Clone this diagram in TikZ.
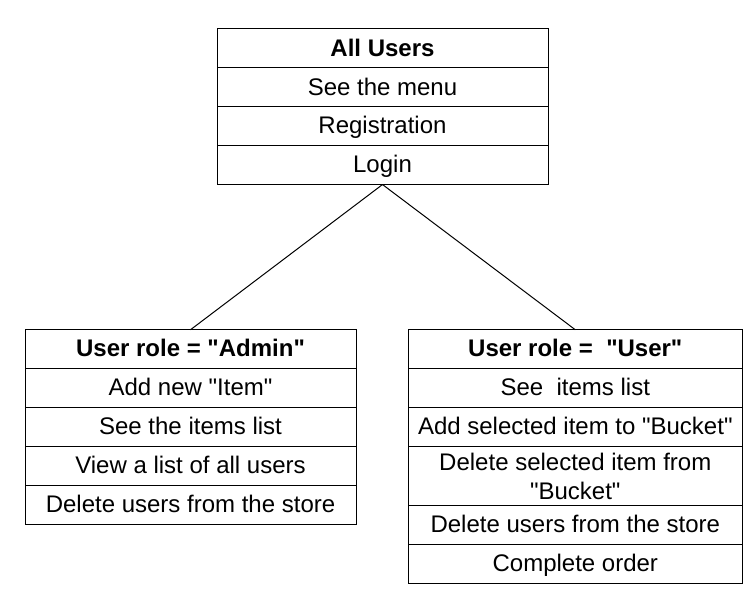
\documentclass[tikz,border=0pt]{standalone}
\usepackage{fontspec}
\setmainfont{Liberation Sans}
\usetikzlibrary{positioning}
\newcommand{\qt}[1]{\textquotedbl#1\textquotedbl}

\begin{document}
\begin{tikzpicture}[x=1pt,y=-1pt,node distance=0pt,line width=1pt]
  \tikzstyle{every node}=[draw,align=center,inner sep=0pt,outer sep=0pt,minimum width=331pt,minimum height=38.9pt,text height=17pt,text depth=1.5pt,font=\fontsize{24}{29}\selectfont]
  \tikzstyle{head}=[font=\fontsize{24}{29}\selectfont\bfseries]
  \tikzstyle{wide}=[minimum width=334pt]
  \useasboundingbox (0,0) rectangle (745,593);
  % all users
  \node[head] (all_0) at (382.5,48.4) {All Users};
  \node (all_1) [below=of all_0] {See the menu};
  \node (all_2) [below=of all_1] {Registration};
  \node (all_3) [below=of all_2] {Login};
  % admin
  \node[head] (adm_0) at (190.5,349.2) {User role = \qt{Admin}};
  \node (adm_1) [below=of adm_0] {Add new \qt{Item}};
  \node (adm_2) [below=of adm_1] {See the items list};
  \node (adm_3) [below=of adm_2] {View a list of all users};
  \node (adm_4) [below=of adm_3] {Delete users from the store};
  % user
  \node[head,wide] (usr_0) at (575.3,349.2) {User role =\ \ \qt{User}};
  \node[wide] (usr_1) [below=of usr_0] {See\ \ items list};
  \node[wide] (usr_2) [below=of usr_1] {Add selected item to \qt{Bucket}};
  \node[wide,minimum height=59.1pt,text height=,text depth=] (usr_3) [below=of usr_2] {Delete selected item from\\\qt{Bucket}};
  \node[wide] (usr_4) [below=of usr_3] {Delete users from the store};
  \node[wide] (usr_5) [below=of usr_4] {Complete order};
  \draw (all_3.south) -- (adm_0.north)
        (all_3.south) -- (usr_0.north);
\end{tikzpicture}
\end{document}
